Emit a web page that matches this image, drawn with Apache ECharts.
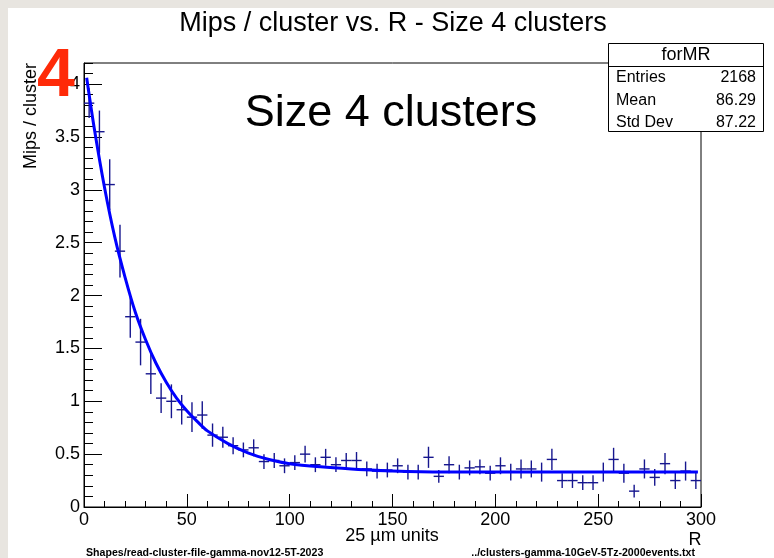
<!DOCTYPE html>
<html>
<head>
<meta charset="utf-8">
<script src="https://cdn.jsdelivr.net/npm/echarts@6/dist/echarts.min.js"></script>
<style>
  html, body { margin: 0; padding: 0; background: #e8e5e0; }
  .paper { position: absolute; left: 8px; top: 8px; right: 0; bottom: 0; background: #fff; }
  #chart { position: absolute; left: 0; top: 0; width: 774px; height: 558px; }
</style>
</head>
<body>
<div class="paper"></div>
<div id="chart"></div>
<script>
// bin centres (5 units wide) and measured mips / cluster
const binCenters = [2.5, 7.5, 12.5, 17.5, 22.5, 27.5, 32.5, 37.5, 42.5, 47.5,
  52.5, 57.5, 62.5, 67.5, 72.5, 77.5, 82.5, 87.5, 92.5, 97.5,
  102.5, 107.5, 112.5, 117.5, 122.5, 127.5, 132.5, 137.5, 142.5, 147.5,
  152.5, 157.5, 162.5, 167.5, 172.5, 177.5, 182.5, 187.5, 192.5, 197.5,
  202.5, 207.5, 212.5, 217.5, 222.5, 227.5, 232.5, 237.5, 242.5, 247.5,
  252.5, 257.5, 262.5, 267.5, 272.5, 277.5, 282.5, 287.5, 292.5, 297.5];
const mipsValues = [3.82, 3.55, 3.05, 2.42, 1.80, 1.56, 1.26, 1.03, 1.00, 0.92,
  0.85, 0.87, 0.68, 0.66, 0.58, 0.54, 0.56, 0.43, 0.44, 0.39,
  0.42, 0.50, 0.40, 0.47, 0.40, 0.44, 0.44, 0.36, 0.34, 0.35,
  0.39, 0.33, 0.33, 0.47, 0.29, 0.40, 0.33, 0.37, 0.38, 0.32,
  0.39, 0.33, 0.36, 0.36, 0.33, 0.45, 0.25, 0.25, 0.23, 0.23,
  0.33, 0.45, 0.32, 0.15, 0.36, 0.28, 0.41, 0.25, 0.34, 0.25];
const mipsErrors = [0.14, 0.20, 0.24, 0.25, 0.20, 0.22, 0.19, 0.14, 0.16, 0.14,
  0.14, 0.13, 0.11, 0.10, 0.08, 0.07, 0.08, 0.07, 0.07, 0.07,
  0.07, 0.08, 0.07, 0.08, 0.07, 0.07, 0.08, 0.07, 0.07, 0.07,
  0.07, 0.07, 0.07, 0.10, 0.06, 0.08, 0.07, 0.07, 0.07, 0.07,
  0.08, 0.08, 0.09, 0.08, 0.09, 0.10, 0.07, 0.07, 0.07, 0.07,
  0.09, 0.11, 0.09, 0.06, 0.09, 0.08, 0.10, 0.08, 0.09, 0.08];
const binHalfWidth = 2.5;

// fitted curve
const fitX = [1.3, 5, 10, 15, 20, 25, 30, 35, 40, 45, 50, 55, 60, 70, 80, 90,
  100, 115, 130, 150, 175, 200, 250, 298.5];
const fitY = [4.06, 3.58, 3.02, 2.55, 2.17, 1.84, 1.58, 1.36, 1.18, 1.03, 0.91, 0.81,
  0.72, 0.60, 0.51, 0.45, 0.41, 0.38, 0.36, 0.34, 0.33, 0.33, 0.33, 0.33];

const statsRows = [["Entries", "2168"], ["Mean", "86.29"], ["Std Dev", "87.22"]];

const font = "'Liberation Sans', Arial, Helvetica, sans-serif";
const chart = echarts.init(document.getElementById("chart"));

const points = binCenters.map((x, i) => [x, mipsValues[i], mipsErrors[i]]);
const fitData = fitX.map((x, i) => [x, fitY[i]]);

const statsGraphics = [
  { type: "rect", shape: { x: 608.5, y: 43.5, width: 155, height: 88 },
    style: { fill: "#fff", stroke: "#000", lineWidth: 1 }, z: 100 },
  { type: "line", shape: { x1: 608.5, y1: 66.5, x2: 763.5, y2: 66.5 },
    style: { stroke: "#000", lineWidth: 1 }, z: 101 },
  { type: "text", x: 686, y: 55, z: 101,
    style: { text: "forMR", font: "18px " + font, fill: "#000", align: "center", verticalAlign: "middle" } }
];
statsRows.forEach((r, i) => {
  const y = 78 + i * 22.5;
  statsGraphics.push({ type: "text", x: 616, y: y, z: 101,
    style: { text: r[0], font: "16px " + font, fill: "#000", align: "left", verticalAlign: "middle" } });
  statsGraphics.push({ type: "text", x: 756, y: y, z: 101,
    style: { text: r[1], font: "16px " + font, fill: "#000", align: "right", verticalAlign: "middle" } });
});

let option = {
  animation: false,
  backgroundColor: "transparent",
  grid: {
    left: 84, top: 63, width: 617, height: 444,
    show: true, borderColor: "#000", borderWidth: 1, backgroundColor: "transparent"
  },
  xAxis: {
    type: "value", min: 0, max: 300, interval: 50,
    axisLine: { show: true, lineStyle: { color: "#000", width: 1 } },
    axisTick: { show: true, inside: true, length: 13, lineStyle: { color: "#000" } },
    minorTick: { show: true, splitNumber: 5, length: 6, lineStyle: { color: "#000" } },
    splitLine: { show: false },
    axisLabel: { color: "#000", fontSize: 18, fontFamily: font, margin: 4 }
  },
  yAxis: [
    {
      // major ticks + labels
      type: "value", min: 0, max: 4.2, interval: 0.5,
      axisLine: { show: true, lineStyle: { color: "#000", width: 1 } },
      axisTick: { show: true, inside: true, length: 18, lineStyle: { color: "#000" } },
      splitLine: { show: false },
      axisLabel: { color: "#000", fontSize: 18, fontFamily: font, margin: 4, showMaxLabel: false }
    },
    {
      // minor ticks every 0.1
      type: "value", min: 0, max: 4.2, interval: 0.1, position: "left",
      axisLine: { show: false },
      axisTick: { show: true, inside: true, length: 9, lineStyle: { color: "#000" } },
      splitLine: { show: false },
      axisLabel: { show: false }
    }
  ],
  graphic: [
    { type: "text", x: 393, y: 24, style: { text: "Mips / cluster vs. R - Size 4 clusters",
      font: "27px " + font, fill: "#000", align: "center", verticalAlign: "middle" } },
    { type: "text", x: 391, y: 114, z: 50, style: { text: "Size 4 clusters",
      font: "45px " + font, fill: "#000", align: "center", verticalAlign: "middle" } },
    { type: "text", x: 56, y: 77, z: 60, style: { text: "4",
      font: "bold 68px " + font, fill: "#ff2a08", align: "center", verticalAlign: "middle" } },
    { type: "text", x: 31, y: 63, rotation: Math.PI / 2, style: { text: "Mips / cluster",
      font: "18px " + font, fill: "#000", align: "right", verticalAlign: "middle" } },
    { type: "text", x: 392, y: 536, style: { text: "25 µm units",
      font: "18px " + font, fill: "#000", align: "center", verticalAlign: "middle" } },
    { type: "text", x: 695, y: 540, style: { text: "R",
      font: "18px " + font, fill: "#000", align: "center", verticalAlign: "middle" } },
    { type: "text", x: 86, y: 553, style: { text: "Shapes/read-cluster-file-gamma-nov12-5T-2023",
      font: "bold 10.6px " + font, fill: "#000", align: "left", verticalAlign: "middle" } },
    { type: "text", x: 695, y: 553, style: { text: "../clusters-gamma-10GeV-5Tz-2000events.txt",
      font: "bold 10.6px " + font, fill: "#000", align: "right", verticalAlign: "middle" } }
  ].concat(statsGraphics),
  series: [
    {
      type: "custom",
      yAxisIndex: 0,
      data: points,
      z: 3,
      renderItem: function (params, api) {
        const x = api.value(0), y = api.value(1), e = api.value(2);
        const l = api.coord([x - binHalfWidth, y]);
        const r = api.coord([x + binHalfWidth, y]);
        const t = api.coord([x, y + e]);
        const b = api.coord([x, y - e]);
        const style = { stroke: "#16168e", lineWidth: 1.4 };
        return {
          type: "group",
          children: [
            { type: "line", shape: { x1: l[0], y1: l[1], x2: r[0], y2: r[1] }, style: style },
            { type: "line", shape: { x1: t[0], y1: t[1], x2: b[0], y2: b[1] }, style: style }
          ]
        };
      }
    },
    {
      type: "line",
      yAxisIndex: 0,
      data: fitData,
      smooth: 0.3,
      showSymbol: false,
      z: 4,
      lineStyle: { color: "#0000ff", width: 3 }
    }
  ]
};
chart.setOption(option);
</script>
</body>
</html>
